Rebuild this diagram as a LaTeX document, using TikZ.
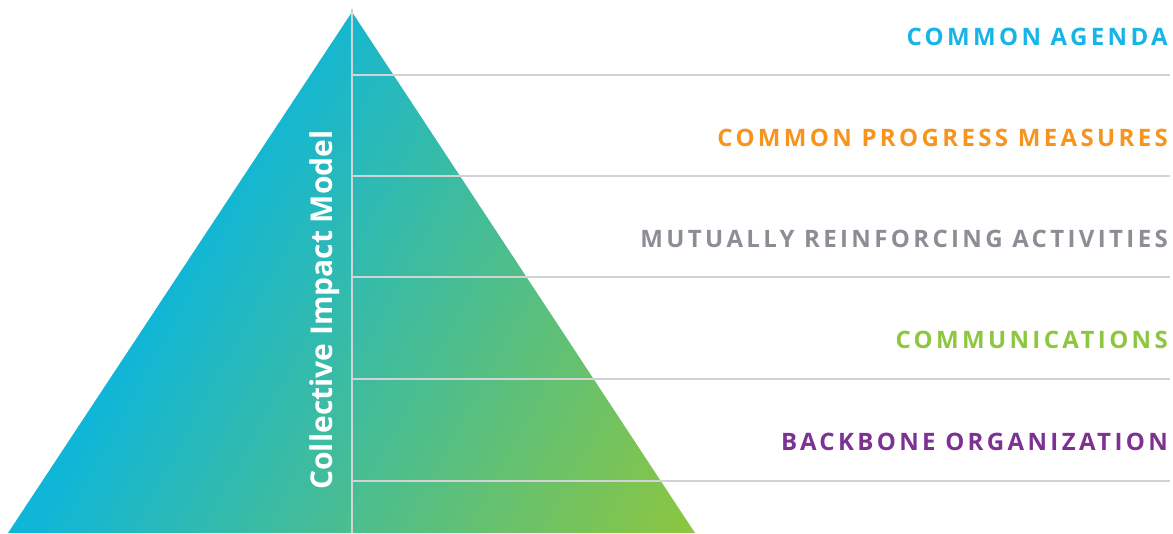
\documentclass[tikz,border=0pt]{standalone}
\usepackage{fontspec}
\setmainfont{Open Sans}
\newfontfamily\levelfont[LetterSpace=14]{Open Sans}
\usetikzlibrary{positioning}

\definecolor{pyrcyan}{HTML}{0FB6D8}
\definecolor{pyrgreen}{HTML}{8DC63F}
\definecolor{rulegray}{HTML}{D2D3D6}
\definecolor{agendacol}{HTML}{17B4E8}
\definecolor{measurecol}{HTML}{F7941D}
\definecolor{activitycol}{HTML}{8B8E95}
\definecolor{commcol}{HTML}{8DC63F}
\definecolor{backbonecol}{HTML}{7D3292}

% cyan on the upper left, green only towards the lower right corner
\pgfdeclareverticalshading{pyramid}{100bp}{color(0bp)=(pyrgreen);
    color(16bp)=(pyrgreen); color(63bp)=(pyrcyan); color(100bp)=(pyrcyan)}

\begin{document}
\begin{tikzpicture}[x=1pt,y=1pt,
    rule/.style={draw=rulegray,line width=2.6pt},
    level/.style={anchor=base east,inner sep=0pt,
        font=\levelfont\bfseries\fontsize{24}{28}\selectfont}]
    \useasboundingbox (0,0) rectangle (1173,533);

    % the pyramid
    \shade[shading=pyramid,shading angle=61.5]
        (8,0) -- (352,521) -- (695,0) -- cycle;

    % rules splitting it into levels
    \draw[rule] (352,0) -- (352,524);
    \foreach \y in {52,154,256,357,458}
        \draw[rule] (352,\y) -- (1170,\y);

    \node[level,text=agendacol]   (agenda)   at (1168,487) {COMMON AGENDA};
    \node[level,text=measurecol]  (measures) at (1168,386) {COMMON PROGRESS MEASURES};
    \node[level,text=activitycol] (activity) at (1168,285) {MUTUALLY REINFORCING ACTIVITIES};
    \node[level,text=commcol]     (comm)     at (1168,184) {COMMUNICATIONS};
    \node[level,text=backbonecol] (backbone) at (1168,82)  {BACKBONE ORGANIZATION};

    \node[rotate=90,anchor=base,inner sep=0pt,text=white,
        font=\bfseries\fontsize{30}{34}\selectfont] (title) at (332,223)
        {Collective Impact Model};
\end{tikzpicture}
\end{document}
